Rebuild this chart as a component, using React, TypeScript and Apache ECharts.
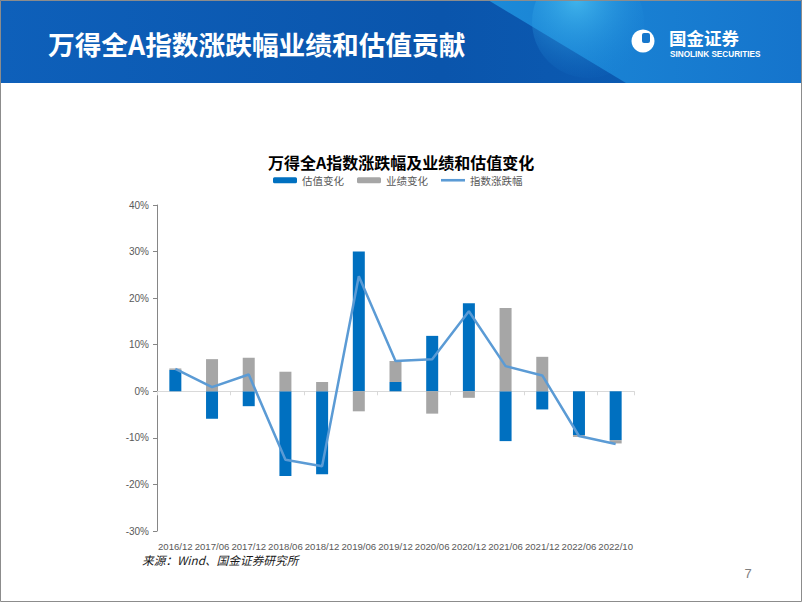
import React, { useEffect, useRef } from "react";
import * as echarts from "echarts";

const categories = [
  "2016/12", "2017/06", "2017/12", "2018/06", "2018/12", "2019/06", "2019/12",
  "2020/06", "2020/12", "2021/06", "2021/12", "2022/06", "2022/10",
];
const valuationChange = [4.6, -5.9, -3.2, -18.2, -17.8, 30.0, 2.0, 11.9, 18.9, -10.7, -3.9, -9.4, -10.5];
const earningsChange = [0.3, 6.9, 7.2, 4.2, 2.0, -4.3, 4.5, -4.8, -1.4, 17.9, 7.4, -0.4, -0.7];
const indexChange = [4.8, 0.9, 3.6, -14.7, -16.1, 24.7, 6.5, 6.9, 17.2, 5.4, 3.4, -9.6, -11.3];

const seriesNames = ["估值变化", "业绩变化", "指数涨跌幅"];
const pageTitle = "万得全A指数涨跌幅业绩和估值贡献";
const chartTitle = "万得全A指数涨跌幅及业绩和估值变化";
const sourceNote = "来源：Wind、国金证券研究所";
const pageNumber = "7";

const CJK = '"Noto Sans CJK SC", "Noto Sans", sans-serif';
const LATIN = '"Liberation Sans", Arial, sans-serif';

export default function App() {
  const ref = useRef<HTMLDivElement>(null);
  useEffect(() => {
    if (!ref.current) return;
    const chart = echarts.init(ref.current, null, { renderer: "svg" });
    chart.setOption({
      animation: false,
      backgroundColor: "#ffffff",
      title: {
        text: chartTitle,
        left: "center",
        top: 149,
        textStyle: { fontFamily: CJK, fontSize: 16, fontWeight: "bold", color: "#000000" },
      },
      legend: {
        data: [
          { name: seriesNames[0] },
          { name: seriesNames[1] },
          { name: seriesNames[2], icon: "path://M0,0H24V2.6H0Z" },
        ],
        left: 268,
        top: 170,
        itemWidth: 24,
        itemHeight: 6,
        itemGap: 13,
        symbolKeepAspect: true,
        textStyle: { fontFamily: CJK, fontSize: 10.5, color: "#595959" },
      },
      grid: { left: 157, right: 168, top: 205, bottom: 71, containLabel: false },
      xAxis: [
        {
          type: "category",
          data: categories,
          boundaryGap: true,
          axisLine: { onZero: true, lineStyle: { color: "#d9d9d9", width: 1.2 } },
          axisTick: { show: true, length: 4, lineStyle: { color: "#d9d9d9" } },
          axisLabel: { show: false },
          splitLine: { show: false },
        },
        {
          type: "category",
          data: categories,
          position: "bottom",
          boundaryGap: true,
          axisLine: { show: false, onZero: false },
          axisTick: { show: false },
          axisLabel: {
            interval: 0,
            margin: 10,
            fontFamily: LATIN,
            fontSize: 9.6,
            color: "#595959",
          },
          splitLine: { show: false },
        },
      ],
      yAxis: {
        type: "value",
        min: -30,
        max: 40,
        interval: 10,
        axisLine: { show: true, lineStyle: { color: "#868686" } },
        axisTick: { show: true, length: 4, lineStyle: { color: "#868686" } },
        axisLabel: {
          formatter: "{value}%",
          fontFamily: LATIN,
          fontSize: 10,
          color: "#595959",
          margin: 8,
        },
        splitLine: { show: false },
      },
      series: [
        {
          name: seriesNames[0],
          type: "bar",
          stack: "total",
          xAxisIndex: 0,
          barWidth: 12,
          itemStyle: { color: "#0070c0" },
          data: valuationChange,
        },
        {
          name: seriesNames[1],
          type: "bar",
          stack: "total",
          xAxisIndex: 0,
          barWidth: 12,
          itemStyle: { color: "#a6a6a6" },
          data: earningsChange,
        },
        {
          name: seriesNames[2],
          type: "line",
          xAxisIndex: 1,
          symbol: "none",
          z: 5,
          lineStyle: { color: "#5b9bd5", width: 2.5 },
          itemStyle: { color: "#5b9bd5" },
          data: indexChange,
        },
      ],
      graphic: [
        {
          type: "rect",
          shape: { x: 0, y: 0, width: 802, height: 83 },
          style: {
            fill: new echarts.graphic.LinearGradient(0, 0, 1, 0, [
              { offset: 0, color: "#0e60ba" },
              { offset: 0.55, color: "#0a55ac" },
              { offset: 1, color: "#0d5fb6" },
            ]),
          },
          z: 0,
        },
        {
          type: "polygon",
          shape: { points: [[488, 0], [802, 0], [802, 83], [626, 83]] },
          style: {
            fill: new echarts.graphic.LinearGradient(0, 0, 1, 0, [
              { offset: 0, color: "#1c8ad8" },
              { offset: 1, color: "#1574cc" },
            ]),
          },
          z: 0,
        },
        {
          type: "circle",
          shape: { cx: 588, cy: 22, r: 56 },
          style: {
            fill: new echarts.graphic.RadialGradient(0.4, 0.3, 0.7, [
              { offset: 0, color: "rgba(80,200,245,0.7)" },
              { offset: 1, color: "rgba(30,140,220,0.05)" },
            ]),
          },
          z: 0,
        },
        {
          type: "text",
          x: 48,
          y: 43,
          style: {
            text: pageTitle,
            fill: "#ffffff",
            fontFamily: CJK,
            fontSize: 26.7,
            fontWeight: "bold",
            verticalAlign: "middle",
            align: "left",
          },
          z: 2,
        },
        {
          type: "circle",
          shape: { cx: 643, cy: 41, r: 11.5 },
          style: { fill: "#ffffff" },
          z: 2,
        },
        {
          type: "rect",
          shape: { x: 642, y: 33, width: 8, height: 10, r: 2 },
          style: { fill: "#1677cc" },
          z: 3,
        },
        {
          type: "text",
          x: 669,
          y: 37.5,
          style: {
            text: "国金证券",
            fill: "#ffffff",
            fontFamily: CJK,
            fontSize: 17.5,
            fontWeight: "bold",
            verticalAlign: "middle",
          },
          z: 2,
        },
        {
          type: "text",
          x: 670,
          y: 54,
          style: {
            text: "SINOLINK SECURITIES",
            fill: "#ffffff",
            fontFamily: LATIN,
            fontSize: 8.2,
            fontWeight: "bold",
            verticalAlign: "middle",
          },
          z: 2,
        },
        {
          type: "text",
          x: 142,
          y: 559,
          style: {
            text: sourceNote,
            fill: "#1a1a1a",
            fontFamily: CJK,
            fontSize: 11.7,
            fontStyle: "italic",
            verticalAlign: "middle",
          },
          z: 2,
        },
        {
          type: "text",
          x: 748,
          y: 573,
          style: {
            text: pageNumber,
            fill: "#7f7f7f",
            fontFamily: LATIN,
            fontSize: 13,
            align: "center",
            verticalAlign: "middle",
          },
          z: 2,
        },
        {
          type: "rect",
          shape: { x: 0.5, y: 0.5, width: 801, height: 601 },
          style: { fill: "none", stroke: "#8c8c8c", lineWidth: 1 },
          z: 4,
        },
      ],
    });
    return () => chart.dispose();
  }, []);
  return (
    <div
      ref={ref}
      style={{ position: "absolute", left: 0, top: 0, width: 802, height: 602 }}
    />
  );
}
